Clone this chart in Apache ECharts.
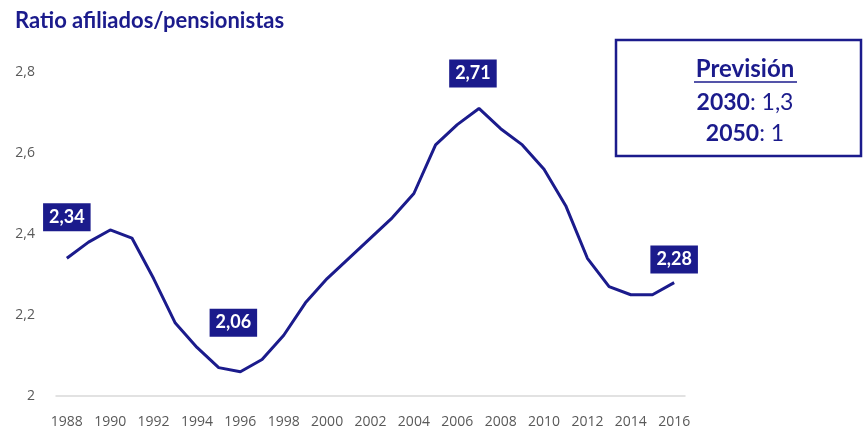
<!DOCTYPE html>
<html>
<head>
<meta charset="utf-8">
<script src="https://cdn.jsdelivr.net/npm/echarts@6/dist/echarts.min.js"></script>
<style>
  html, body { margin: 0; padding: 0; background: #fff; }
  #board { width: 864px; height: 430px; }
</style>
</head>
<body>
<div id="board"></div>
<script>
// años y ratio afiliados/pensionistas
var years = ["1988", "1989", "1990", "1991", "1992", "1993", "1994", "1995", "1996", "1997",
  "1998", "1999", "2000", "2001", "2002", "2003", "2004", "2005", "2006", "2007",
  "2008", "2009", "2010", "2011", "2012", "2013", "2014", "2015", "2016"];
var ratio = [2.34, 2.38, 2.41, 2.39, 2.29, 2.18, 2.12, 2.07, 2.06, 2.09,
  2.15, 2.23, 2.29, 2.34, 2.39, 2.44, 2.50, 2.62, 2.67, 2.71,
  2.66, 2.62, 2.56, 2.47, 2.34, 2.27, 2.25, 2.25, 2.28];
var yTicks = [2, 2.2, 2.4, 2.6, 2.8];
// puntos con etiqueta: índice -> [distancia, desplazamiento x]
var labelled = { 0: [27, 0], 8: [35, -7], 19: [21, -6], 28: [9, 0] };
var prevision = [["2030", "1,3"], ["2050", "1"]];

var navy = "#1b1b8c";
var comma = function (v) { return String(v).replace(".", ","); };

var seriesData = ratio.map(function (v, i) {
  if (labelled[i] === undefined) return v;
  return {
    value: v,
    label: {
      show: true,
      position: "top",
      distance: labelled[i][0],
      offset: [labelled[i][1], 0],
      formatter: function (p) { return comma(p.value.toFixed(2)); },
      color: "#fff",
      backgroundColor: navy,
      fontFamily: "Lato",
      fontWeight: "bold",
      fontSize: 18,
      padding: [5, 6, 5, 6]
    }
  };
});

var myChart = echarts.init(document.getElementById("board"));
myChart.setOption({
  animation: false,
  title: {
    text: "Ratio afiliados/pensionistas",
    left: 10,
    top: 5,
    textStyle: { color: navy, fontFamily: "Lato", fontWeight: "bold", fontSize: 22 }
  },
  grid: { left: 56, right: 179, top: 72, bottom: 34 },
  xAxis: {
    type: "category",
    data: years,
    boundaryGap: true,
    axisLine: { lineStyle: { color: "#d9d9d9", width: 1.5 } },
    axisTick: { show: false },
    axisLabel: { interval: 1, color: "#595959", fontFamily: "Open Sans", fontSize: 14, margin: 19 }
  },
  yAxis: {
    type: "value",
    min: yTicks[0],
    max: yTicks[yTicks.length - 1],
    interval: 0.2,
    splitLine: { show: false },
    axisLine: { show: false },
    axisTick: { show: false },
    axisLabel: { color: "#595959", fontFamily: "Open Sans", fontSize: 14, margin: 21, formatter: comma }
  },
  series: [{
    type: "line",
    data: seriesData,
    symbol: "circle",
    symbolSize: 0.1,
    itemStyle: { color: navy },
    lineStyle: { color: navy, width: 3 },
    silent: true,
    z: 3
  }],
  graphic: [
    { type: "rect", shape: { x: 616, y: 40, width: 245, height: 116 },
      style: { fill: "#fff", stroke: navy, lineWidth: 2.5 } },
    { type: "text", x: 745, y: 69,
      style: { text: "Previsión", fill: navy, font: "bold 24px Lato", align: "center", verticalAlign: "middle" } },
    { type: "line", shape: { x1: 694, y1: 82, x2: 797, y2: 82 },
      style: { stroke: navy, lineWidth: 1.5 } },
    { type: "text", x: 745, y: 103,
      style: { text: "{b|" + prevision[0][0] + "}{r|: " + prevision[0][1] + "}", align: "center", verticalAlign: "middle",
        rich: { b: { fill: navy, font: "bold 23px Lato" }, r: { fill: navy, font: "23px Lato" } } } },
    { type: "text", x: 745, y: 134,
      style: { text: "{b|" + prevision[1][0] + "}{r|: " + prevision[1][1] + "}", align: "center", verticalAlign: "middle",
        rich: { b: { fill: navy, font: "bold 23px Lato" }, r: { fill: navy, font: "23px Lato" } } } }
  ]
});
</script>
</body>
</html>
